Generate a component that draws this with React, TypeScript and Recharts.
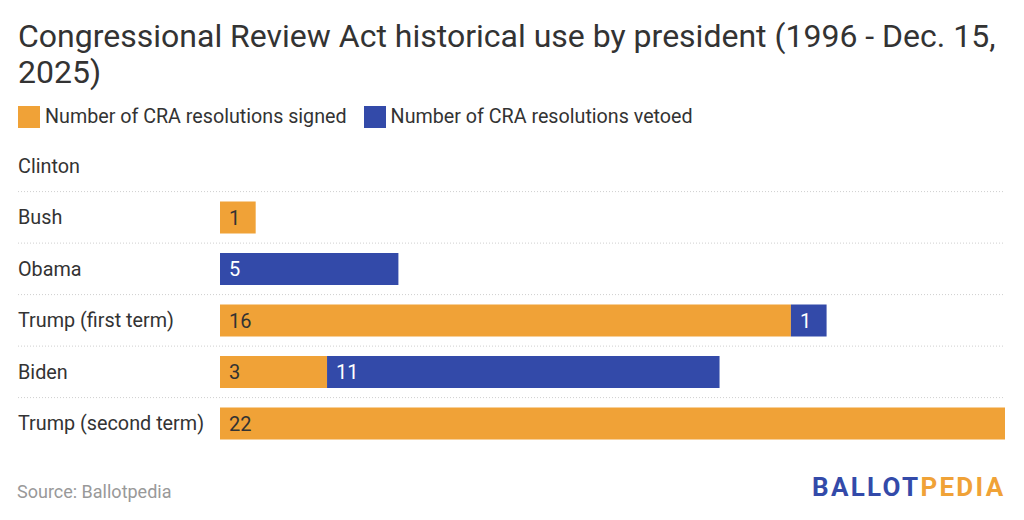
import { BarChart, Bar, XAxis, YAxis, LabelList } from 'recharts';

const presidents = ['Clinton', 'Bush', 'Obama', 'Trump (first term)', 'Biden', 'Trump (second term)'];
const signed = [0, 1, 0, 16, 3, 22];
const vetoed = [0, 0, 5, 1, 11, 0];

const ORANGE = '#f0a237';
const BLUE = '#334aa9';
const FONT = 'Roboto, "Noto Sans", sans-serif';

const data = presidents.map((name, i) => ({ name, signed: signed[i], vetoed: vetoed[i] }));

const ROW = 51.3;

function CategoryTick(props: any) {
    const { y, payload, index } = props;
    return (
        <g>
            {index > 0 && (
                <line x1={18} x2={1005} y1={y - ROW / 2} y2={y - ROW / 2} stroke="#cfcfcf" strokeWidth={1} strokeDasharray="1 2" />
            )}
            <text x={18} y={y} dy={7} fill="#333" fontSize={19.8} fontFamily={FONT} textAnchor="start">
                {payload.value}
            </text>
        </g>
    );
}

const barLabel = (color: string) => (props: any) => {
    const { x, y, height, value } = props;
    if (!value) return null;
    return (
        <text x={x + 9} y={y + height / 2} dy={7} fill={color} fontSize={20} fontFamily={FONT}>
            {value}
        </text>
    );
};

export default function App() {
    return (
        <div style={{ position: 'absolute', left: 0, top: 0, width: 1024, height: 520, background: '#fff', fontFamily: FONT }}>
            <div style={{ position: 'absolute', left: 18, top: 18, width: 1006, fontSize: 32, lineHeight: '36px', color: '#333' }}>
                Congressional Review Act historical use by president (1996 - Dec. 15,
                <br />
                2025)
            </div>
            <div style={{ position: 'absolute', left: 18, top: 105, display: 'flex', alignItems: 'center', fontSize: 19.7, color: '#333' }}>
                <span style={{ width: 22, height: 22, background: ORANGE, display: 'inline-block', marginRight: 5 }} />
                <span style={{ marginRight: 17 }}>Number of CRA resolutions signed</span>
                <span style={{ width: 22, height: 22, background: BLUE, display: 'inline-block', marginRight: 5 }} />
                <span>Number of CRA resolutions vetoed</span>
            </div>
            <div style={{ position: 'absolute', left: 0, top: 140 }}>
                <BarChart
                    width={1024}
                    height={309}
                    data={data}
                    layout="vertical"
                    margin={{ top: 0, right: 19, bottom: 0, left: 0 }}
                    barSize={32}
                >
                    <XAxis type="number" domain={[0, 22]} hide />
                    <YAxis
                        type="category"
                        dataKey="name"
                        width={220}
                        axisLine={false}
                        tickLine={false}
                        tick={<CategoryTick />}
                        interval={0}
                    />
                    <Bar dataKey="signed" stackId="a" fill={ORANGE} isAnimationActive={false}>
                        <LabelList dataKey="signed" content={barLabel('#333')} />
                    </Bar>
                    <Bar dataKey="vetoed" stackId="a" fill={BLUE} isAnimationActive={false}>
                        <LabelList dataKey="vetoed" content={barLabel('#fff')} />
                    </Bar>
                </BarChart>
            </div>
            <div style={{ position: 'absolute', left: 17, top: 481, fontSize: 18, color: '#999' }}>Source: Ballotpedia</div>
            <div style={{ position: 'absolute', left: 812, top: 472, fontSize: 26, fontWeight: 700, letterSpacing: 2.3 }}>
                <span style={{ color: BLUE }}>BALLOT</span>
                <span style={{ color: ORANGE }}>PEDIA</span>
            </div>
        </div>
    );
}
